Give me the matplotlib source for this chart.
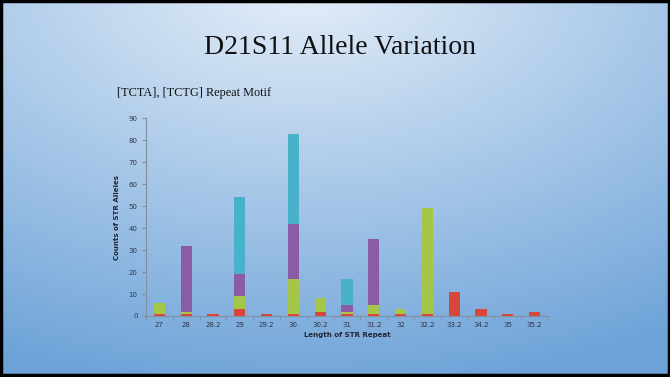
import numpy as np
import matplotlib
matplotlib.use("Agg")
import matplotlib.pyplot as plt
from matplotlib.patches import Rectangle

categories = ["27", "28", "28.2", "29", "29.2", "30", "30.2", "31", "31.2", "32",
              "32.2", "33.2", "34.2", "35", "35.2"]
red    = [1, 1, 1, 3, 1, 1, 2, 1, 1, 1, 1, 11, 3, 1, 2]
green  = [5, 1, 0, 6, 0, 16, 6, 1, 4, 2, 48, 0, 0, 0, 0]
purple = [0, 30, 0, 10, 0, 25, 0, 3, 30, 0, 0, 0, 0, 0, 0]
blue   = [0, 0, 0, 35, 0, 41, 0, 12, 0, 0, 0, 0, 0, 0, 0]
yticks = [0, 10, 20, 30, 40, 50, 60, 70, 80, 90]

colors = ["#D9473C", "#A6C64A", "#8A5CA6", "#48B2CB"]

W, H = 670, 377
fig = plt.figure(figsize=(W / 100, H / 100), dpi=100)

# background radial gradient
bg = fig.add_axes([0, 0, 1, 1])
yy, xx = np.mgrid[0:H, 0:W]
cx, cy = W * 0.45, -20
r = np.sqrt(((xx - cx) / W) ** 2 + ((yy - cy) / H) ** 2 * 0.9)
t = np.clip(r / 1.05, 0, 1)
c0 = np.array([0xE6, 0xEF, 0xF9]) / 255
c1 = np.array([0x6C, 0xA2, 0xD8]) / 255
img = c0[None, None, :] * (1 - t[..., None]) + c1[None, None, :] * t[..., None]
bg.imshow(img, extent=[0, W, H, 0], aspect="auto")
bg.set_xlim(0, W)
bg.set_ylim(H, 0)
bg.axis("off")
bg.add_patch(Rectangle((1, 1), W - 2, H - 3, fill=False, edgecolor="black", lw=2.5))

fig.text(340 / W, 1 - 48 / H, "D21S11 Allele Variation", ha="center", va="center",
         fontsize=20, family="Liberation Serif", color="#111111")
fig.text(117 / W, 1 - 93 / H, "[TCTA], [TCTG] Repeat Motif", ha="left", va="center",
         fontsize=8.8, family="Liberation Serif", color="#111111")

# chart axes
x0, x1 = 146, 548
y0, y1 = 316, 118.3
ax = fig.add_axes([x0 / W, 1 - y0 / H, (x1 - x0) / W, (y0 - y1) / H])
ax.patch.set_alpha(0)
x = np.arange(len(categories))
bottom = np.zeros(len(categories))
for vals, c in zip([red, green, purple, blue], colors):
    v = np.array(vals, dtype=float)
    ax.bar(x, v, width=0.42, bottom=bottom, color=c, edgecolor="none")
    bottom += v

ax.set_xlim(-0.5, len(categories) - 0.5)
ax.set_ylim(0, 90)
ax.set_yticks(yticks)
ax.set_yticklabels([str(v) for v in yticks])
ax.set_xticks(x)
ax.set_xticklabels(categories)
ax.set_xticks(np.arange(-0.5, len(categories), 1), minor=True)
ax.tick_params(axis="x", which="major", length=0, labelsize=5, colors="#333344", pad=4)
ax.tick_params(axis="x", which="minor", length=3, color="#7F8FA0", direction="out")
ax.tick_params(axis="y", length=3, color="#7F8FA0", labelsize=5, labelcolor="#333344", pad=3)
for s in ["top", "right"]:
    ax.spines[s].set_visible(False)
for s in ["left", "bottom"]:
    ax.spines[s].set_color("#7F8FA0")
    ax.spines[s].set_linewidth(0.8)
ax.set_xlabel("Length of STR Repeat", fontsize=5, fontweight="bold", color="#222233", labelpad=3)
ax.set_ylabel("Counts of STR Alleles", fontsize=5, fontweight="bold", color="#222233", labelpad=6)

fig.savefig("out.png", dpi=100)
